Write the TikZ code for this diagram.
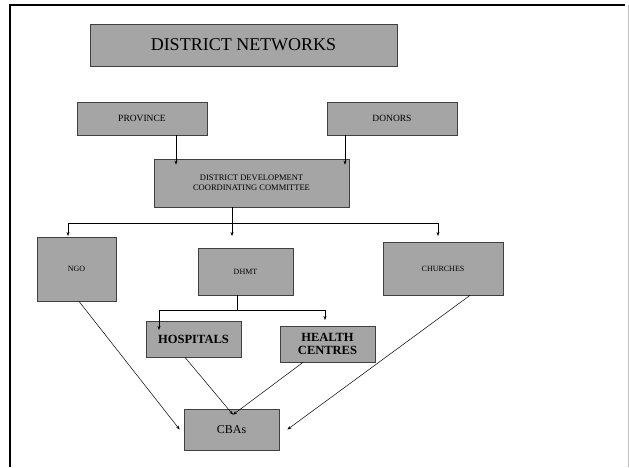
\documentclass[tikz,border=0pt]{standalone}
\usepackage{fontspec}
\setmainfont{Liberation Serif}
\usetikzlibrary{arrows.meta}
\definecolor{boxgray}{RGB}{165,165,165}
\tikzset{
  box/.style={draw=black!75, line width=0.7pt, fill=boxgray, inner sep=1pt, align=center, font=\fontsize{8}{9}\selectfont},
  arr/.style={-{Stealth[length=4pt,width=3pt]}, line width=0.5pt},
  ln/.style={line width=0.5pt}
}
\begin{document}
\begin{tikzpicture}[x=1pt,y=-1pt]
\useasboundingbox (0,0) rectangle (629,467);
% frame
\draw[line width=1.6pt] (10,467) -- (10,5) -- (625,5);
\draw[black!25, line width=0.5pt] (628,5) -- (628,467);

\node[box, minimum width=307pt, minimum height=42pt, font=\fontsize{18}{20}\selectfont] (title) at (243.5,45) {DISTRICT NETWORKS};
\node[box, minimum width=130pt, minimum height=33pt, font=\fontsize{9.5}{11}\selectfont] (prov) at (142,118.5) {PROVINCE};
\node[box, minimum width=130pt, minimum height=33pt, font=\fontsize{9.5}{11}\selectfont] (don) at (392,118.5) {DONORS};
\node[box, minimum width=195pt, minimum height=48pt, font=\fontsize{8.5}{10}\selectfont] (ddcc) at (251.5,183) {DISTRICT DEVELOPMENT\\COORDINATING COMMITTEE};
\node[box, minimum width=79pt, minimum height=64pt] (ngo) at (76.5,269) {NGO};
\node[box, minimum width=95pt, minimum height=47pt] (dhmt) at (245.5,271.5) {DHMT};
\node[box, minimum width=120pt, minimum height=53pt] (church) at (443,268.5) {CHURCHES};
\node[box, minimum width=95pt, minimum height=36pt, font=\fontsize{12.5}{13}\bfseries] (hosp) at (193.5,339) {HOSPITALS};
\node[box, minimum width=95pt, minimum height=36pt, font=\fontsize{12.5}{13.5}\bfseries] (hc) at (327.5,344) {HEALTH\\CENTRES};
\node[box, minimum width=95pt, minimum height=41pt, font=\fontsize{12}{13}\selectfont] (cba) at (231.5,429.5) {CBAs};

% province / donors to ddcc
\coordinate (p1) at ([xshift=34pt]prov.south);
\coordinate (d1) at ([xshift=-47pt]don.south);
\draw[arr] (p1) -- ([yshift=-6pt]p1 |- ddcc.north);
\draw[arr] (d1) -- ([yshift=-6pt]d1 |- ddcc.north);

% ddcc bus
\coordinate (dd) at ([xshift=-19.5pt]ddcc.south);
\coordinate (bm) at (dd |- 0,223);
\coordinate (bl) at (68,223);
\coordinate (br) at (438,223);
\coordinate (tl) at (68,236);
\coordinate (tm) at (bm |- 0,236);
\coordinate (tr) at (438,236);
\draw[ln] (dd) -- (bm);
\draw[ln] (bl) -- (br);
\draw[arr] (bl) -- (tl);
\draw[arr] (bm) -- (tm);
\draw[arr] (br) -- (tr);

% dhmt bus
\coordinate (dh) at ([xshift=-8.5pt]dhmt.south);
\coordinate (hm) at (dh |- 0,310);
\coordinate (hl) at (159,310);
\coordinate (hr) at (325,310);
\coordinate (hlt) at (159,330);
\coordinate (hrt) at (325,320);
\draw[ln] (dh) -- (hm);
\draw[ln] (hl) -- (hr);
\draw[arr] (hl) -- (hlt);
\draw[arr] (hr) -- (hrt);

% diagonals to CBAs
\coordinate (cw) at ([xshift=-4pt]cba.west);
\coordinate (ce) at ([xshift=8pt]cba.east);
\coordinate (ct) at ([xshift=1.5pt,yshift=-6pt]cba.north);
\draw[arr] ([xshift=2.5pt]ngo.south) -- (cw);
\draw[arr] ([xshift=-8.5pt]hosp.south) -- (ct);
\draw[arr] ([xshift=-24.5pt]hc.south) -- (ct);
\draw[arr] ([xshift=27pt]church.south) -- (ce);
\end{tikzpicture}
\end{document}
